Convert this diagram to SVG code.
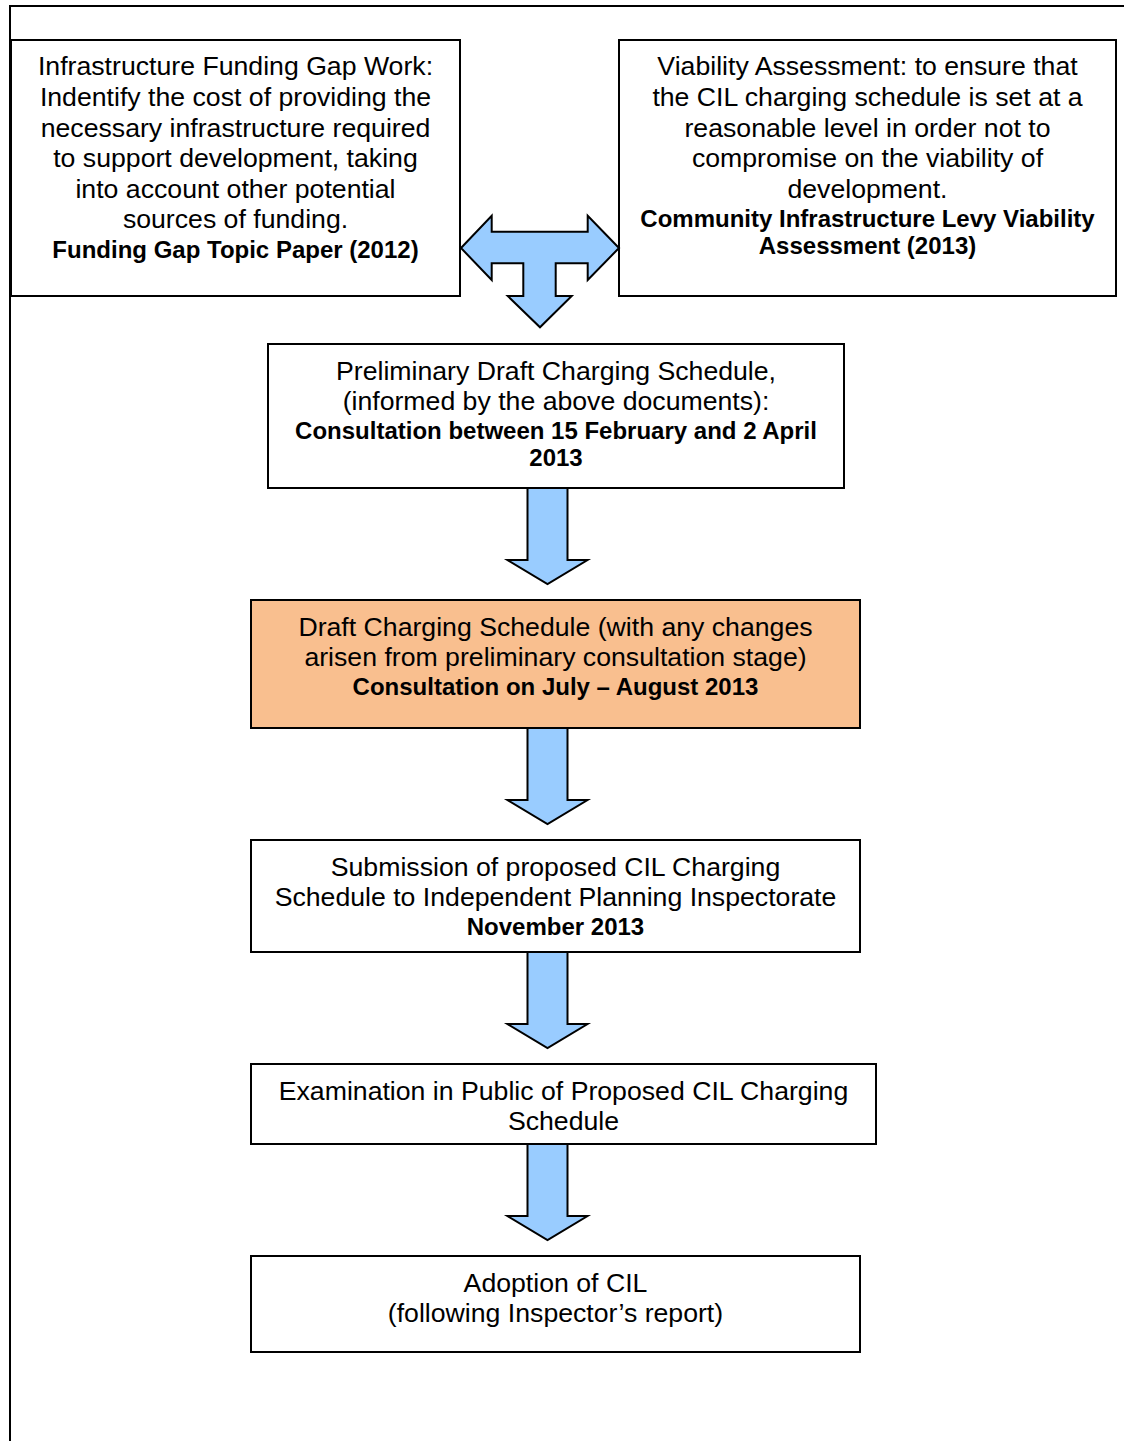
<svg xmlns="http://www.w3.org/2000/svg" width="1124" height="1441" viewBox="0 0 1124 1441">
<style>
.box{fill:#fff;stroke:#000;stroke-width:2}
.orange{fill:#F9BF8F;stroke:#000;stroke-width:2}
.arr{fill:#99CCFF;stroke:#000;stroke-width:2;stroke-linejoin:miter}
text{font-family:"Liberation Sans",Arial,sans-serif;font-size:26.67px;fill:#000;text-anchor:middle}
.b{font-weight:bold;font-size:24px}
</style>
<rect width="1124" height="1441" fill="#fff"/>
<path d="M10,1441 V6 H1124" fill="none" stroke="#000" stroke-width="2"/>
<g id="n1">
<rect class="box" x="11" y="40" width="449" height="256"/>
<text x="235.5" y="75">Infrastructure Funding Gap Work:</text>
<text x="235.5" y="106">Indentify the cost of providing the</text>
<text x="235.5" y="137">necessary infrastructure required</text>
<text x="235.5" y="167">to support development, taking</text>
<text x="235.5" y="198">into account other potential</text>
<text x="235.5" y="228">sources of funding.</text>
<text class="b" x="235.5" y="258">Funding Gap Topic Paper (2012)</text>
</g>
<g id="n2">
<rect class="box" x="619" y="40" width="497" height="256"/>
<text x="867.5" y="75">Viability Assessment: to ensure that</text>
<text x="867.5" y="106">the CIL charging schedule is set at a</text>
<text x="867.5" y="137">reasonable level in order not to</text>
<text x="867.5" y="167">compromise on the viability of</text>
<text x="867.5" y="198">development.</text>
<text class="b" x="867.5" y="227">Community Infrastructure Levy Viability</text>
<text class="b" x="867.5" y="254">Assessment (2013)</text>
</g>
<g id="n3">
<rect class="box" x="268" y="344" width="576" height="144"/>
<text x="556" y="380">Preliminary Draft Charging Schedule,</text>
<text x="556" y="410">(informed by the above documents):</text>
<text class="b" x="556" y="439">Consultation between 15 February and 2 April</text>
<text class="b" x="556" y="466">2013</text>
</g>
<g id="n4">
<rect class="orange" x="251" y="600" width="609" height="128"/>
<text x="555.5" y="636">Draft Charging Schedule (with any changes</text>
<text x="555.5" y="666">arisen from preliminary consultation stage)</text>
<text class="b" x="555.5" y="695">Consultation on July – August 2013</text>
</g>
<g id="n5">
<rect class="box" x="251" y="840" width="609" height="112"/>
<text x="555.5" y="876">Submission of proposed CIL Charging</text>
<text x="555.5" y="906">Schedule to Independent Planning Inspectorate</text>
<text class="b" x="555.5" y="935">November 2013</text>
</g>
<g id="n6">
<rect class="box" x="251" y="1064" width="625" height="80"/>
<text x="563.5" y="1100">Examination in Public of Proposed CIL Charging</text>
<text x="563.5" y="1130">Schedule</text>
</g>
<g id="n7">
<rect class="box" x="251" y="1256" width="609" height="96"/>
<text x="555.5" y="1292">Adoption of CIL</text>
<text x="555.5" y="1322">(following Inspector’s report)</text>
</g>
<g id="connectors">
<path class="arr" d="M461,248 L491.7,215.7 L491.7,231.7 L587.7,231.7 L587.7,215.7 L619,248 L587.7,280 L587.7,263.3 L555.7,263.3 L555.7,296 L571.7,296 L540,327.3 L507.7,296 L523.3,296 L523.3,263.3 L491.7,263.3 L491.7,280 Z"/>
<path class="arr" d="M527.5,488 H567.5 V560 H587.5 L547.5,584 L507.5,560 H527.5 Z"/>
<path class="arr" d="M527.5,728 H567.5 V800 H587.5 L547.5,824 L507.5,800 H527.5 Z"/>
<path class="arr" d="M527.5,952 H567.5 V1024 H587.5 L547.5,1048 L507.5,1024 H527.5 Z"/>
<path class="arr" d="M527.5,1144 H567.5 V1216 H587.5 L547.5,1240 L507.5,1216 H527.5 Z"/>
</g>
</svg>
